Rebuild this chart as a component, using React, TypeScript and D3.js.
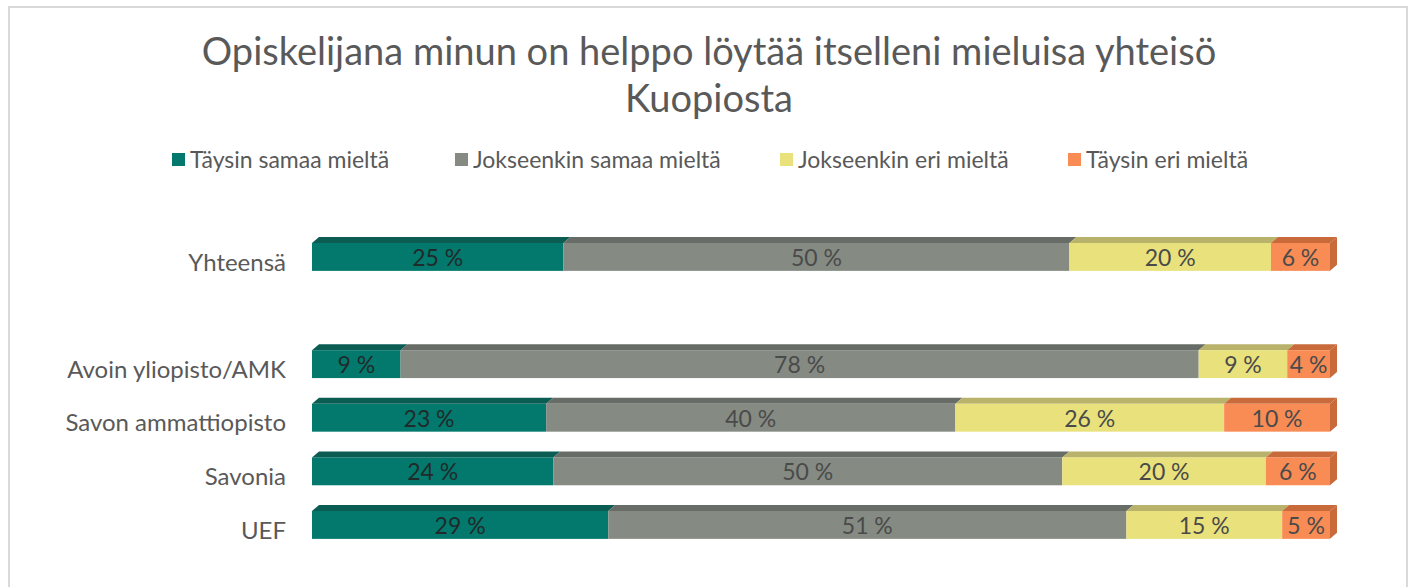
import { useEffect, useRef } from "react";
import * as d3 from "d3";

const categories = ["Yhteensä", " ", "Avoin yliopisto/AMK", "Savon ammattiopisto", "Savonia", "UEF"];
const seriesNames = ["Täysin samaa mieltä", "Jokseenkin samaa mieltä", "Jokseenkin eri mieltä", "Täysin eri mieltä"];
// percentages per category (spacer row has none)
const taysinSamaa = [24.7, null, 8.7, 23.0, 23.7, 29.1];
const jokseenkinSamaa = [49.7, null, 78.4, 40.2, 50.0, 50.9];
const jokseenkinEri = [19.8, null, 8.7, 26.4, 20.0, 15.3];
const taysinEri = [5.8, null, 4.2, 10.4, 6.3, 4.7];
const titleLines = ["Opiskelijana minun on helppo löytää itselleni mieluisa yhteisö", "Kuopiosta"];

const front = ["#03796d", "#858b83", "#e9e27c", "#f98c55"];
const topc = ["#0b5c53", "#676c66", "#b8b26a", "#c96a3b"];
const labelColor = ["#1f2a2a", "#4a4a4a", "#4a4a4a", "#4a4a4a"];

export default function App() {
  const ref = useRef<SVGSVGElement>(null);

  useEffect(() => {
    const svg = d3.select(ref.current);
    svg.selectAll("*").remove();
    const font = "Lato, 'Open Sans', sans-serif";

    // frame
    svg.append("rect")
      .attr("x", 9).attr("y", 7).attr("width", 1398).attr("height", 600)
      .attr("fill", "#fff").attr("stroke", "#d9d9d9").attr("stroke-width", 2);

    // title
    titleLines.forEach((t, i) => {
      svg.append("text")
        .text(t)
        .attr("x", 709).attr("y", 65 + i * 47)
        .attr("text-anchor", "middle")
        .attr("font-family", font)
        .attr("font-size", 38)
        .attr("fill", "#595959");
    });

    // legend
    const legendX = [172, 455, 780, 1068];
    seriesNames.forEach((name, i) => {
      const g = svg.append("g").attr("transform", `translate(${legendX[i]},160)`);
      g.append("rect").attr("x", 0).attr("y", -7).attr("width", 13).attr("height", 13).attr("fill", front[i]);
      g.append("text").text(name)
        .attr("x", 18).attr("y", 8)
        .attr("font-family", font).attr("font-size", 23).attr("fill", "#595959");
    });

    const x = d3.scaleLinear().domain([0, 100]).range([312, 1330]);
    const step = 53.6;
    const pad = 0.48;
    const y0 = 243 - (pad / 2) * step;
    const y = d3.scaleBand<string>()
      .domain(categories)
      .range([y0, y0 + categories.length * step])
      .paddingInner(pad)
      .paddingOuter(pad / 2);
    const h = y.bandwidth();
    const dx = 7, dy = 6;

    const series = [taysinSamaa, jokseenkinSamaa, jokseenkinEri, taysinEri];

    // category labels
    const yAxis = d3.axisLeft(y).tickSize(0).tickPadding(0);
    const ax = svg.append("g").attr("transform", "translate(286,6)").call(yAxis);
    ax.select(".domain").remove();
    ax.selectAll("text")
      .attr("font-family", font).attr("font-size", 24).attr("fill", "#595959");

    categories.forEach((c, ci) => {
      if (series[0][ci] == null) return;
      const by = y(c)!;
      let acc = 0;
      const g = svg.append("g");
      series.forEach((s, si) => {
        const v = s[ci] as number;
        const xa = x(acc), xb = x(acc + v);
        acc += v;
        // top face
        g.append("path")
          .attr("d", `M${xa},${by}L${xa + dx},${by - dy}L${xb + dx},${by - dy}L${xb},${by}Z`)
          .attr("fill", topc[si]);
        // front
        g.append("rect")
          .attr("x", xa).attr("y", by).attr("width", xb - xa).attr("height", h)
          .attr("fill", front[si]);
        if (si === series.length - 1) {
          g.append("path")
            .attr("d", `M${xb},${by}L${xb + dx},${by - dy}L${xb + dx},${by + h - dy}L${xb},${by + h}Z`)
            .attr("fill", topc[si]);
        }
        g.append("text")
          .text(`${Math.round(v)} %`)
          .attr("x", (xa + xb) / 2).attr("y", by + h / 2 + 9)
          .attr("text-anchor", "middle")
          .attr("font-family", font).attr("font-size", 23)
          .attr("fill", labelColor[si]);
      });
    });
  }, []);

  return (
    <svg ref={ref} width={1413} height={587}
      style={{ position: "absolute", left: 0, top: 0, background: "#fff" }} />
  );
}
